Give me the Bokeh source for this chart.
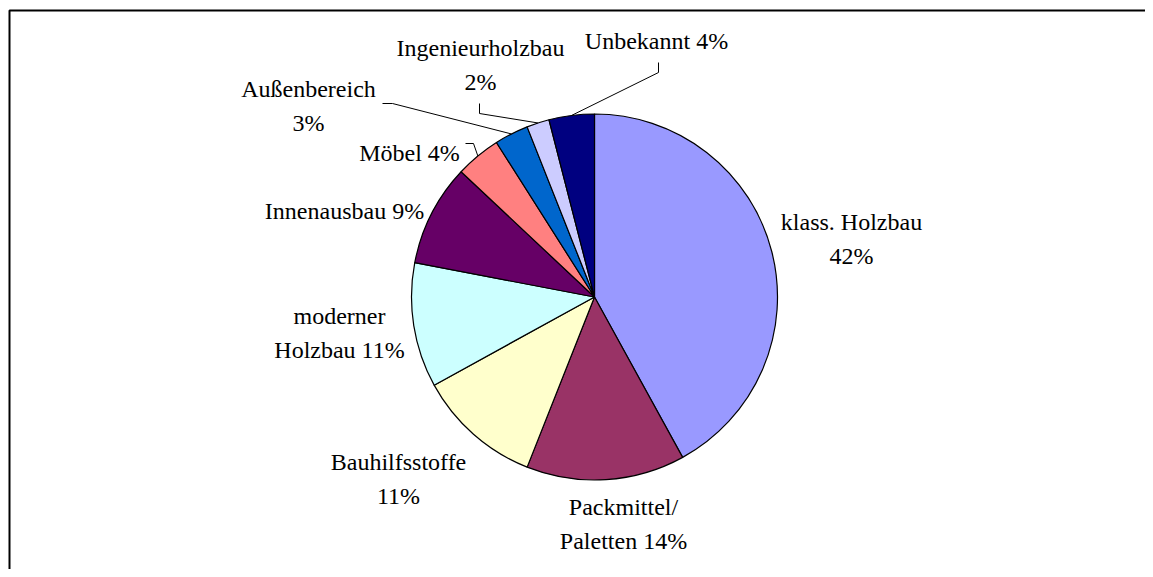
import math
from bokeh.plotting import figure
from bokeh.models import Range1d
from bokeh.embed import file_html
from bokeh.resources import INLINE
from bokeh.core.properties import value

# ---- data ----
categories = ["klass. Holzbau", "Packmittel/ Paletten", "Bauhilfsstoffe", "moderner Holzbau",
              "Innenausbau", "Möbel", "Außenbereich", "Ingenieurholzbau", "Unbekannt"]
shares = [42, 14, 11, 11, 9, 4, 3, 2, 4]
colors = ["#9999FF", "#993366", "#FFFFCC", "#CCFFFF", "#660066",
          "#FF8080", "#0066CC", "#CCCCFF", "#000080"]
# number of words on first label line (0 = single line)
first_line_words = [2, 1, 1, 1, 0, 0, 1, 1, 0]

# ---- layout (screen pixel coordinates) ----
W, H = 1145, 569
def Y(sy):
    return H - sy

CX, CY, R = 594, 296.5, 183
label_pos = [(851, 230), (623, 515), (398, 470), (339, 324), (344, 219),
             (409, 161.5), (308, 97), (480, 56), (656, 49.5)]
LABEL_SHIFT = -9
LINE_GAP = 34
leader_elbows = {5: [(465, 143), (473, 143)], 6: [(382, 103), (392, 103)],
                 7: [(479, 103), (479, 113)], 8: [(658, 62), (658, 72)]}

FONT = "'Liberation Serif'"
FSIZE = "24px"

p = figure(width=W, height=H, output_backend="svg", toolbar_location=None,
           x_range=Range1d(0, W), y_range=Range1d(0, H), min_border=0)
p.axis.visible = False
p.grid.visible = False
p.outline_line_color = None
p.background_fill_color = "white"
p.border_fill_color = "white"

# frame (top and left edges visible)
p.line([9, 9, 1200], [Y(600), Y(10), Y(10)], line_color="black", line_width=2)

total = float(sum(shares))
cum = 0.0
starts, ends, mids = [], [], []
for s in shares:
    a0 = math.pi / 2 - 2 * math.pi * cum / total
    cum += s
    a1 = math.pi / 2 - 2 * math.pi * cum / total
    starts.append(a0)
    ends.append(a1)
    mids.append((a0 + a1) / 2)

p.wedge(x=[CX] * len(shares), y=[Y(CY)] * len(shares), radius=R,
        start_angle=starts, end_angle=ends, direction="clock",
        fill_color=colors, line_color="black", line_width=1.2)

# leader lines
for i, pts in leader_elbows.items():
    ex = CX + R * math.cos(mids[i])
    ey = Y(CY) + R * math.sin(mids[i])
    xs = [q[0] for q in pts] + [ex]
    ys = [Y(q[1]) for q in pts] + [ey]
    p.line(xs, ys, line_color="black", line_width=1)

# labels
tx, ty, tt = [], [], []
for i, (cat, s) in enumerate(zip(categories, shares)):
    words = f"{cat} {s}%".split(" ")
    n = first_line_words[i]
    lines = [" ".join(words)] if n == 0 else [" ".join(words[:n]), " ".join(words[n:])]
    lx, ly = label_pos[i]
    for k, ln in enumerate(lines):
        tx.append(lx)
        ty.append(Y(ly + LABEL_SHIFT + k * LINE_GAP))
        tt.append(ln)

p.text(x=tx, y=ty, text=tt, text_font=value(FONT), text_font_size=FSIZE,
       text_align="center", text_baseline="alphabetic", text_color="black")

open("out.html", "w").write(file_html(p, INLINE))
